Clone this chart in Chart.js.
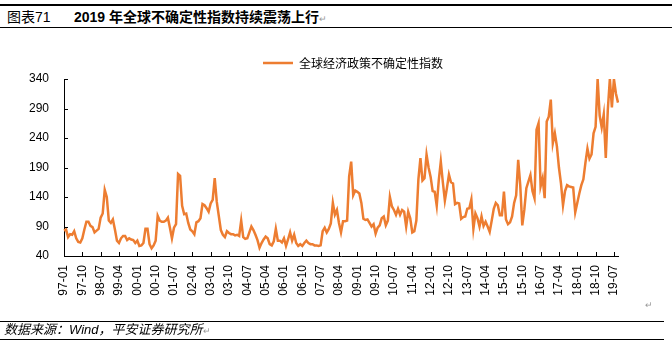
<!DOCTYPE html>
<html>
<head>
<meta charset="utf-8">
<script src="https://cdn.jsdelivr.net/npm/chart.js@4.4.0/dist/chart.umd.min.js"></script>
<style>
  html, body { margin: 0; padding: 0; background: #fff; }
  #page {
    position: relative; width: 672px; height: 343px; overflow: hidden;
    font-family: "Liberation Sans", "Noto Sans CJK SC", sans-serif; color: #000;
  }
  #chart { position: absolute; left: 0; top: 0; }
  .rule { position: absolute; left: 0; background: #000; }
  .txt { position: absolute; white-space: nowrap; }
  .mark { color: #999; font-size: 9px; font-weight: normal; font-style: normal; }
</style>
</head>
<body>
<div id="page">
  <div class="rule" style="top:4px;width:672px;height:2px"></div>
  <div class="txt" style="left:7px;top:8px;font-size:14px;line-height:18px">图表71</div>
  <div class="txt" style="left:74px;top:8px;font-size:14px;line-height:18px;font-weight:bold">2019 年全球不确定性指数持续震荡上行<span class="mark">↵</span></div>
  <div class="rule" style="top:27px;width:672px;height:1px"></div>

  <canvas id="chart" width="672" height="343"></canvas>

  <div class="txt mark" style="left:645px;top:300px">↵</div>
  <div class="rule" style="top:321px;width:664px;height:1px"></div>
  <div class="txt" style="left:4px;top:322px;font-size:13px;line-height:16px;font-style:italic">数据来源：Wind，平安证券研究所<span class="mark">↵</span></div>
  <div class="rule" style="top:339px;width:664px;height:1px"></div>
</div>

<script>
// Global economic policy uncertainty index, monthly from 1997-01
const seriesName = '全球经济政策不确定性指数';
const startYear = 1997;
const gepuIndex = [
  83, 85, 72, 77, 76, 82, 70, 64, 63, 70,
  85, 98, 98, 91, 89, 80, 83, 86, 105, 112,
  152, 140, 100, 96, 102, 85, 66, 62, 70, 74,
  74, 67, 70, 68, 67, 62, 66, 57, 58, 62,
  86, 86, 60, 53, 58, 66, 108, 100, 98, 98,
  100, 105, 88, 70, 88, 94, 179, 176, 125, 111,
  112, 96, 85, 82, 77, 97, 99, 104, 128, 126,
  121, 115, 129, 135, 172, 132, 108, 84, 76, 72,
  82, 79, 77, 77, 75, 76, 74, 100, 72, 69,
  70, 80, 90, 84, 76, 67, 54, 62, 68, 73,
  70, 60, 58, 65, 86, 66, 66, 63, 70, 57,
  68, 80, 66, 76, 62, 57, 60, 57, 62, 66,
  62, 60, 60, 58, 58, 57, 58, 82, 88, 80,
  86, 95, 130, 110, 118, 96, 80, 99, 99, 100,
  175, 200, 143, 151, 149, 146, 130, 103, 101, 102,
  96, 90, 94, 78, 88, 92, 104, 107, 92, 100,
  140, 124, 118, 110, 120, 110, 118, 115, 90, 115,
  104, 80, 82, 100, 170, 206, 168, 172, 212, 190,
  174, 150, 149, 125, 168, 200, 165, 134, 155, 178,
  165, 163, 128, 130, 129, 103, 106, 107, 120, 121,
  136, 86, 112, 104, 90, 107, 91, 98, 90, 81,
  100, 120, 130, 126, 109, 109, 149, 102, 94, 97,
  107, 130, 143, 203, 160, 92, 118, 155, 166, 177,
  150, 138, 254, 265, 158, 172, 138, 268, 276, 305,
  231, 248, 226, 190, 163, 126, 150, 160, 158, 157,
  156, 114, 130, 146, 160, 170, 198, 222, 205, 212,
  248, 259, 340, 278, 258, 280, 206, 288, 340, 292,
  340, 315, 300
];
const yTicks = [40, 90, 140, 190, 240, 290, 340];
const labelStep = 9; // one x label every 9 months

// month labels like 97-01, 00-10
const months = gepuIndex.map((_, i) => {
  const yy = String((startYear + Math.floor(i / 12)) % 100).padStart(2, '0');
  const mm = String(i % 12 + 1).padStart(2, '0');
  return yy + '-' + mm;
});

// short tick marks pointing into the plot
const innerTicks = {
  id: 'innerTicks',
  afterDraw(chart) {
    const { ctx, chartArea: a, scales: { x, y } } = chart;
    ctx.save();
    ctx.strokeStyle = '#000';
    ctx.lineWidth = 1;
    ctx.beginPath();
    yTicks.forEach(v => {
      const py = Math.round(y.getPixelForValue(v)) + 0.5;
      ctx.moveTo(a.left, py);
      ctx.lineTo(a.left + 4, py);
    });
    for (let i = 0; i < months.length; i += labelStep) {
      const px = Math.round(x.getPixelForValue(i)) + 0.5;
      ctx.moveTo(px, a.bottom);
      ctx.lineTo(px, a.bottom - 4);
    }
    ctx.stroke();
    ctx.restore();
  }
};

// move the legend sideways without touching the plot area
const legendNudge = {
  id: 'legendNudge',
  afterLayout(chart, args, opts) {
    const lg = chart.legend;
    if (!lg || !opts.x) return;
    lg.left += opts.x;
    lg.right += opts.x;
  }
};

Chart.defaults.font.family = '"Liberation Sans", "Noto Sans CJK SC", sans-serif';
Chart.defaults.color = '#000';

new Chart(document.getElementById('chart'), {
  type: 'line',
  data: {
    labels: months,
    datasets: [{
      label: seriesName,
      data: gepuIndex,
      borderColor: '#ED7D31',
      backgroundColor: '#ED7D31',
      borderWidth: 2.5,
      pointRadius: 0,
      tension: 0
    }]
  },
  options: {
    responsive: false,
    animation: false,
    layout: { padding: { top: 47, right: 54, bottom: 0, left: 0 } },
    plugins: {
      legend: {
        position: 'top',
        labels: {
          boxWidth: 30,
          boxHeight: 0,
          padding: 10,
          font: { size: 12, family: '"Noto Sans CJK SC", sans-serif' }
        }
      },
      legendNudge: { x: 44 },
      tooltip: { enabled: false }
    },
    scales: {
      x: {
        type: 'category',
        offset: false,
        grid: { display: false, drawTicks: false },
        border: { display: true, color: '#000', width: 1 },
        ticks: {
          autoSkip: false,
          minRotation: 90,
          maxRotation: 90,
          padding: 9,
          font: { size: 12 },
          callback(value, i) {
            return i % labelStep === 0 ? this.getLabelForValue(value) : '';
          }
        },
        afterFit(scale) { scale.height = 87; }
      },
      y: {
        min: 40,
        max: 340,
        grid: { display: false, drawTicks: false },
        border: { display: true, color: '#000', width: 1 },
        ticks: { padding: 15, font: { size: 12 } },
        afterBuildTicks(scale) { scale.ticks = yTicks.map(v => ({ value: v })); },
        afterFit(scale) { scale.width = 64; }
      }
    }
  },
  plugins: [innerTicks, legendNudge]
});
</script>
</body>
</html>
